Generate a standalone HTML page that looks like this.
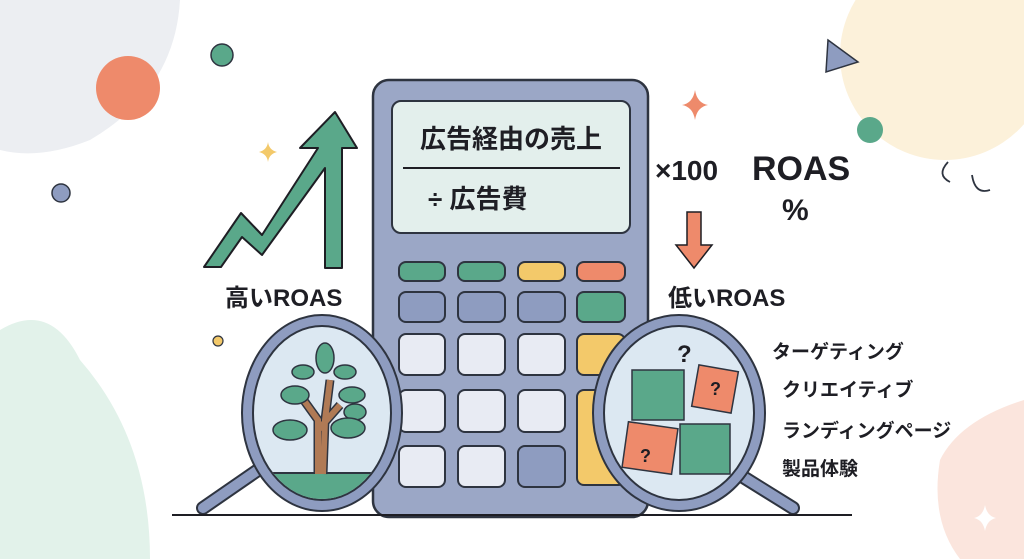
<!DOCTYPE html>
<html><head><meta charset="utf-8"><style>
html,body{margin:0;padding:0;background:#fff}
svg{display:block}
text{font-family:"Liberation Sans","Noto Sans CJK JP",sans-serif;font-weight:bold;fill:#1e1e24}
</style></head><body>
<svg width="1024" height="559" viewBox="0 0 1024 559" xmlns="http://www.w3.org/2000/svg">
<path d="M0 0 H180 Q175 90 90 140 Q40 160 0 150 Z" fill="#eceef2"/>
<circle cx="945" cy="55" r="105" fill="#fcf1da"/>
<path d="M0 330 Q50 300 80 360 Q150 440 150 559 H0 Z" fill="#e2f2ea"/>
<path d="M1024 400 Q960 420 940 460 Q930 520 960 559 H1024 Z" fill="#fbe5dd"/>
<circle cx="128" cy="88" r="32" fill="#ee8a6b"/>
<circle cx="222" cy="55" r="11" fill="#5aa88a" stroke="#2e3440" stroke-width="1.5"/>
<circle cx="870" cy="130" r="13" fill="#5aa88a"/>
<circle cx="61" cy="193" r="9" fill="#8e9cc0" stroke="#2e3440" stroke-width="1.5"/>
<circle cx="218" cy="341" r="5" fill="#f3c96a" stroke="#2e3440" stroke-width="1.2"/>
<polygon points="828,40 858,62 826,72" fill="#8e9cc0" stroke="#2e3440" stroke-width="1.5"/>
<path d="M695 90 Q697 103 708 105 Q697 107 695 120 Q693 107 682 105 Q693 103 695 90Z" fill="#ee8a6b"/>
<path d="M268 142 Q269 150 277 152 Q269 154 268 162 Q267 154 259 152 Q267 150 268 142Z" fill="#f3c96a"/>
<path d="M985 505 Q987 516 996 518 Q987 520 985 531 Q983 520 974 518 Q983 516 985 505Z" fill="#fff"/>
<path d="M948 162 Q936 175 950 182" fill="none" stroke="#2e3440" stroke-width="1.8"/>
<path d="M972 175 Q975 195 990 190" fill="none" stroke="#2e3440" stroke-width="1.8"/>
<polygon points="204,267 241,213 262,235 318,148 300,148 335,112 357,148 342,148 342,268 325,268 325,168 262,255 242,237 221,267" fill="#5aa88a" stroke="#1e1e24" stroke-width="2" stroke-linejoin="round"/>
<rect x="373" y="80" width="275" height="437" rx="16" fill="#9ba7c6" stroke="#2e3440" stroke-width="2.5"/>
<rect x="392" y="101" width="238" height="132" rx="9" fill="#e3efec" stroke="#2e3440" stroke-width="2"/>
<text x="511" y="148" font-size="26" text-anchor="middle">広告経由の売上</text>
<line x1="403" y1="168" x2="620" y2="168" stroke="#1e1e24" stroke-width="2"/>
<text x="428" y="208" font-size="26">÷ 広告費</text>
<g stroke="#2e3440" stroke-width="2">
<rect x="399" y="262" width="46" height="19" rx="7" fill="#5aa88a"/>
<rect x="458" y="262" width="47" height="19" rx="7" fill="#5aa88a"/>
<rect x="518" y="262" width="47" height="19" rx="7" fill="#f3c96a"/>
<rect x="577" y="262" width="48" height="19" rx="7" fill="#ee8a6b"/>
<rect x="399" y="292" width="46" height="30" rx="7" fill="#8e9cc0"/>
<rect x="458" y="292" width="47" height="30" rx="7" fill="#8e9cc0"/>
<rect x="518" y="292" width="47" height="30" rx="7" fill="#8e9cc0"/>
<rect x="577" y="292" width="48" height="30" rx="7" fill="#5aa88a"/>
<rect x="399" y="334" width="46" height="41" rx="7" fill="#e8ebf3"/>
<rect x="458" y="334" width="47" height="41" rx="7" fill="#e8ebf3"/>
<rect x="518" y="334" width="47" height="41" rx="7" fill="#e8ebf3"/>
<rect x="577" y="334" width="48" height="41" rx="7" fill="#f3c96a"/>
<rect x="399" y="390" width="46" height="42" rx="7" fill="#e8ebf3"/>
<rect x="458" y="390" width="47" height="42" rx="7" fill="#e8ebf3"/>
<rect x="518" y="390" width="47" height="42" rx="7" fill="#e8ebf3"/>
<rect x="577" y="390" width="48" height="95" rx="7" fill="#f3c96a"/>
<rect x="399" y="446" width="46" height="41" rx="7" fill="#e8ebf3"/>
<rect x="458" y="446" width="47" height="41" rx="7" fill="#e8ebf3"/>
<rect x="518" y="446" width="47" height="41" rx="7" fill="#8e9cc0"/>
</g>
<text x="655" y="180" font-size="28" font-weight="normal">×100</text>
<text x="752" y="180" font-size="34">ROAS</text>
<text x="782" y="220" font-size="30" font-weight="normal">%</text>
<polygon points="687,212 701,212 701,245 712,245 694,268 676,245 687,245" fill="#ee8a6b" stroke="#1e1e24" stroke-width="1.5"/>
<text x="225" y="306" font-size="24">高いROAS</text>
<text x="668" y="306" font-size="24">低いROAS</text>
<text x="772" y="358" font-size="19">ターゲティング</text>
<text x="782" y="396" font-size="19">クリエイティブ</text>
<text x="782" y="437" font-size="19">ランディングページ</text>
<text x="782" y="475" font-size="19">製品体験</text>
<line x1="258" y1="470" x2="203" y2="508" stroke="#2e3440" stroke-width="14" stroke-linecap="round"/>
<line x1="258" y1="470" x2="203" y2="508" stroke="#8e9cc0" stroke-width="10" stroke-linecap="round"/>
<ellipse cx="322" cy="413" rx="80" ry="98" fill="#8e9cc0" stroke="#2e3440" stroke-width="2"/>
<ellipse cx="322" cy="413" rx="69" ry="87" fill="#dce8f2" stroke="#2e3440" stroke-width="2"/>
<clipPath id="lc"><ellipse cx="322" cy="413" rx="68" ry="86"/></clipPath>
<g clip-path="url(#lc)">
<rect x="250" y="473" width="150" height="60" fill="#5aa88a" stroke="#2e3440" stroke-width="2"/>
<path d="M318 474 L318 420 L300 395 M318 430 L340 405 M323 474 L325 420 L330 380" stroke="#2e3440" stroke-width="9" fill="none"/>
<path d="M318 474 L318 420 L300 395 M318 430 L340 405 M323 474 L325 420 L330 380" stroke="#b07a55" stroke-width="6" fill="none"/>
<g fill="#5aa88a" stroke="#2e3440" stroke-width="1.5">
<ellipse cx="325" cy="358" rx="9" ry="15"/><ellipse cx="303" cy="372" rx="11" ry="7"/><ellipse cx="345" cy="372" rx="11" ry="7"/>
<ellipse cx="295" cy="395" rx="14" ry="9"/><ellipse cx="352" cy="395" rx="13" ry="8"/><ellipse cx="355" cy="412" rx="11" ry="8"/>
<ellipse cx="290" cy="430" rx="17" ry="10"/><ellipse cx="348" cy="428" rx="17" ry="10"/>
</g>
</g>
<line x1="740" y1="475" x2="793" y2="508" stroke="#2e3440" stroke-width="14" stroke-linecap="round"/>
<line x1="740" y1="475" x2="793" y2="508" stroke="#8e9cc0" stroke-width="10" stroke-linecap="round"/>
<ellipse cx="679" cy="413" rx="86" ry="98" fill="#8e9cc0" stroke="#2e3440" stroke-width="2"/>
<ellipse cx="679" cy="413" rx="75" ry="87" fill="#dce8f2" stroke="#2e3440" stroke-width="2"/>
<g stroke="#2e3440" stroke-width="1.5">
<rect x="632" y="370" width="52" height="50" fill="#5aa88a"/>
<rect x="680" y="424" width="50" height="50" fill="#5aa88a"/>
<rect x="695" y="368" width="40" height="42" fill="#ee8a6b" transform="rotate(10 715 389)"/>
<rect x="625" y="425" width="50" height="46" fill="#ee8a6b" transform="rotate(8 650 448)"/>
</g>
<text x="677" y="362" font-size="24">?</text>
<text x="710" y="395" font-size="18">?</text>
<text x="640" y="462" font-size="18">?</text>
<line x1="172" y1="515" x2="852" y2="515" stroke="#1e1e24" stroke-width="2"/>
</svg>
</body></html>
